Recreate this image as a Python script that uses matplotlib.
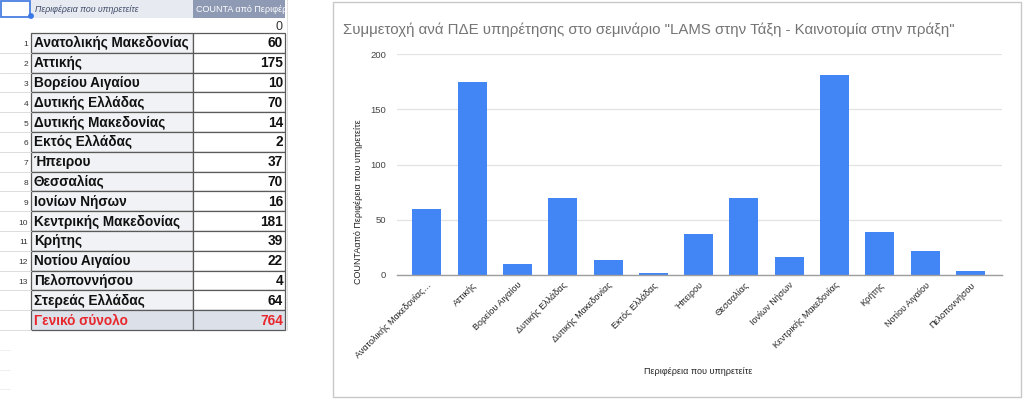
import matplotlib
matplotlib.use("Agg")
import matplotlib.pyplot as plt
from matplotlib.patches import Rectangle, Circle

# ---------------- data ----------------
table_names = ["Ανατολικής Μακεδονίας", "Αττικής", "Βορείου Αιγαίου", "Δυτικής Ελλάδας",
               "Δυτικής Μακεδονίας", "Εκτός Ελλάδας", "Ήπειρου", "Θεσσαλίας", "Ιονίων Νήσων",
               "Κεντρικής Μακεδονίας", "Κρήτης", "Νοτίου Αιγαίου", "Πελοποννήσου",
               "Στερεάς Ελλάδας"]
table_values = [60, 175, 10, 70, 14, 2, 37, 70, 16, 181, 39, 22, 4, 64]
total_label = "Γενικό σύνολο"
total_value = 764
header_name = "Περιφέρεια που υπηρετείτε"
header_value = "COUNTA από Περιφέρεια"
blank_value = 0

chart_labels = ["Ανατολικής Μακεδονίας…", "Αττικής", "Βορείου Αιγαίου", "Δυτικής Ελλάδας",
                "Δυτικής Μακεδονίας", "Εκτός Ελλάδας", "Ήπειρου", "Θεσσαλίας", "Ιονίων Νήσων",
                "Κεντρικής Μακεδονίας", "Κρήτης", "Νοτίου Αιγαίου", "Πελοποννήσου"]
chart_values = [60, 175, 10, 70, 14, 2, 37, 70, 16, 181, 39, 22, 4]
y_ticks = [0, 50, 100, 150, 200]
title = 'Συμμετοχή ανά ΠΔΕ υπηρέτησης στο σεμινάριο "LAMS στην Τάξη - Καινοτομία στην πράξη"'
x_title = "Περιφέρεια που υπηρετείτε"
y_title = "COUNTAαπό Περιφέρεια που υπηρετείτε"

# ---------------- figure ----------------
W, H = 1024, 400
fig = plt.figure(figsize=(W / 100, H / 100), dpi=100)
fig.patch.set_facecolor("white")

bg = fig.add_axes([0, 0, 1, 1], zorder=0)
bg.set_xlim(0, W)
bg.set_ylim(H, 0)
bg.axis("off")

TF = "Liberation Sans"
# columns
cx0, cx1, cx2, cx3 = 0, 31, 193, 285
hdr_top, hdr_bot = 0, 18
row0_bot = 33
rh = 19.8

# header
bg.add_patch(Rectangle((cx1, hdr_top), cx2 - cx1, hdr_bot - hdr_top, facecolor="#e7eaf1", edgecolor="none"))
bg.add_patch(Rectangle((cx2, hdr_top), cx3 - cx2, hdr_bot - hdr_top, facecolor="#8e9ab4", edgecolor="none"))
bg.add_patch(Rectangle((cx0 + 1, hdr_top + 1), cx1 - 2, hdr_bot - 2, facecolor="white", edgecolor="#4a7fe0", lw=1.3))
bg.add_patch(Circle((cx1, hdr_bot - 2), 2.2, color="#3b78e7", zorder=5))
bg.text(cx1 + 4, (hdr_top + hdr_bot) / 2, header_name, fontsize=6.3, style="italic",
        color="#3d4a66", va="center", ha="left", family=TF)
t = bg.text(cx2 + 3, (hdr_top + hdr_bot) / 2, header_value, fontsize=6.5, color="white",
            va="center", ha="left", family=TF)
t.set_clip_path(Rectangle((cx2, hdr_top), cx3 - cx2, hdr_bot - hdr_top, transform=bg.transData))
t.set_clip_on(True)

# row "0"
bg.text(cx3 - 3, (hdr_bot + row0_bot) / 2 + 1, str(blank_value), fontsize=9, color="#333333",
        va="center", ha="right", family=TF)

# data rows
rows = list(zip(table_names, table_values)) + [(total_label, total_value)]
n = len(rows)
for i, (name, val) in enumerate(rows):
    top = row0_bot + i * rh
    is_total = i == n - 1
    name_bg = "#dce0e9" if is_total else "#f1f2f5"
    val_bg = "#dce0e9" if is_total else "white"
    bg.add_patch(Rectangle((cx1, top), cx2 - cx1, rh, facecolor=name_bg, edgecolor="#5a5a5a", lw=0.9))
    bg.add_patch(Rectangle((cx2, top), cx3 - cx2, rh, facecolor=val_bg, edgecolor="#5a5a5a", lw=0.9))
    bg.plot([cx0, cx1], [top + rh, top + rh], color="#d8d8d8", lw=0.6)
    col = "#e8262b" if is_total else "#111111"
    bg.text(cx1 + 3, top + rh / 2 + 0.5, name, fontsize=9.8, fontweight="bold", color=col,
            va="center", ha="left", family=TF)
    bg.text(cx3 - 2, top + rh / 2 + 0.5, str(val), fontsize=9.8, fontweight="bold", color=col,
            va="center", ha="right", family=TF)
    if i < len(table_names) - 1:
        bg.text(cx1 - 3, top + rh / 2 + 2, str(i + 1), fontsize=6.0, color="#333333",
                va="center", ha="right", family=TF)

table_bottom = row0_bot + n * rh
# faint empty spreadsheet rows below table
k = 1
while table_bottom + k * rh < H:
    bg.plot([0, 10], [table_bottom + k * rh, table_bottom + k * rh], color="#ececec", lw=0.6)
    k += 1
bg.plot([cx3 + 2, cx3 + 2], [0, table_bottom], color="#e0e0e0", lw=0.7)

# chart box
bg.add_patch(Rectangle((333, 2), 1021 - 333, 395, facecolor="white", edgecolor="#c8c8c8", lw=1.0))

# ---------------- chart ----------------
CF = "Liberation Sans"
ax_l, ax_r, ax_t, ax_b = 397, 1002, 54, 275
ax = fig.add_axes([ax_l / W, 1 - ax_b / H, (ax_r - ax_l) / W, (ax_b - ax_t) / H], zorder=2)
ax.patch.set_alpha(0)
xs = list(range(len(chart_values)))
ax.bar(xs, chart_values, width=0.64, color="#4285f4", zorder=3)
ax.set_xlim(-0.66, len(chart_values) - 1 + 0.7)
ax.set_ylim(0, 200)
ax.set_yticks(y_ticks)
ax.set_yticklabels([str(v) for v in y_ticks], fontsize=6.8, color="#444444", family=CF)
ax.grid(axis="y", color="#e3e3e3", lw=0.9, zorder=0)
ax.set_axisbelow(True)
for s in ["top", "right", "left"]:
    ax.spines[s].set_visible(False)
ax.spines["bottom"].set_color("#9e9e9e")
ax.spines["bottom"].set_linewidth(1.0)
ax.spines["bottom"].set_zorder(4)
ax.tick_params(axis="both", length=0)
ax.tick_params(axis="y", pad=8)
ax.tick_params(axis="x", pad=4)
ax.set_xticks(xs)
ax.set_xticklabels(chart_labels, rotation=45, ha="right", va="top", rotation_mode="anchor",
                   fontsize=6.5, color="#222222", family=CF)

ax.set_ylabel(y_title, fontsize=6.5, color="#222222", family=CF)
ax.yaxis.set_label_coords((363 - ax_l) / (ax_r - ax_l), (ax_b - 202) / (ax_b - ax_t))

fig.text(343 / W, 1 - 30 / H, title, fontsize=10.8, color="#757575", ha="left", va="center", family=CF)
fig.text(698 / W, 1 - 372 / H, x_title, fontsize=6.5, color="#222222", ha="center", va="center", family=CF)

fig.savefig("out.png", dpi=100, facecolor="white")
